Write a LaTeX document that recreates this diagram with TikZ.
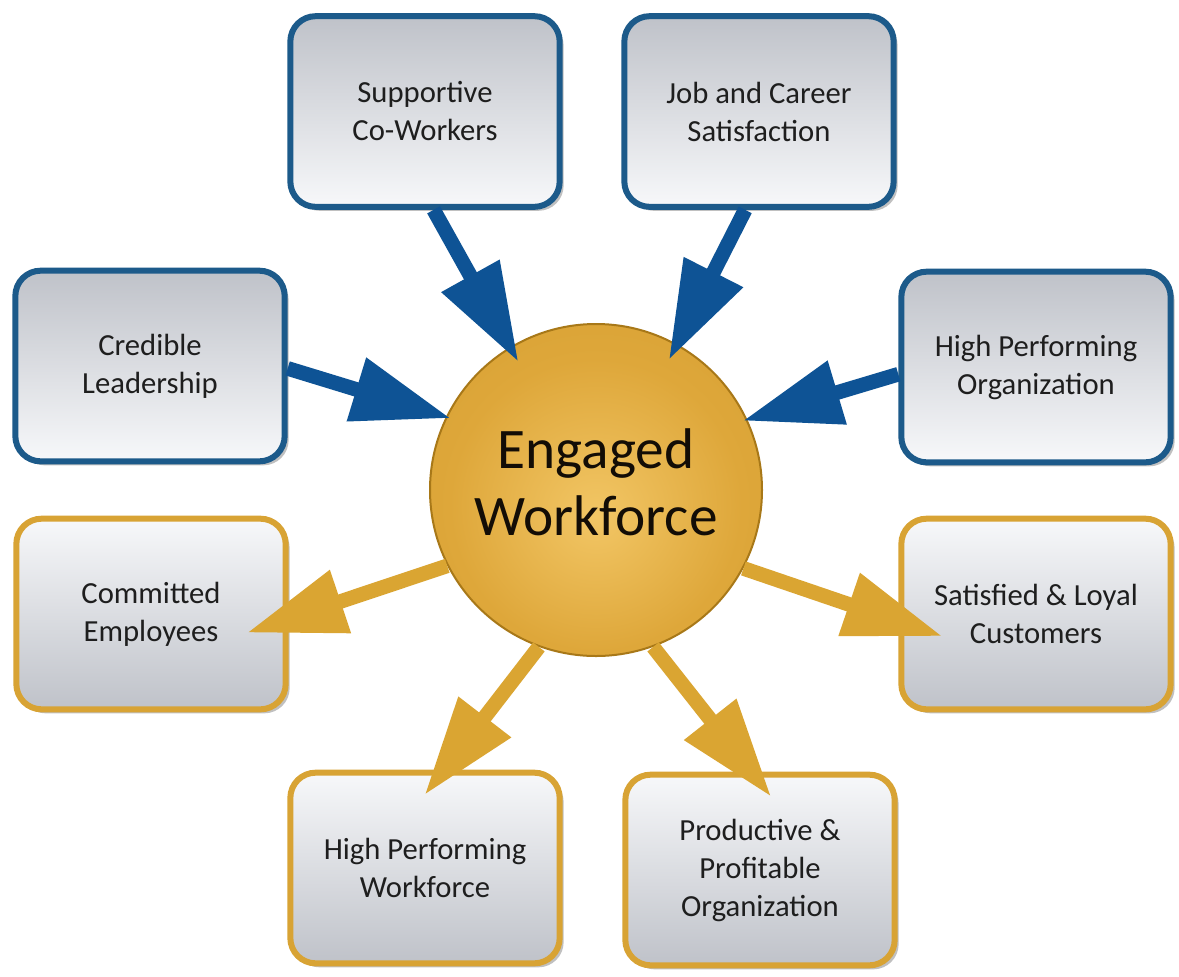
\documentclass[tikz,border=0pt]{standalone}
\usepackage{fontspec}
\setmainfont{Carlito}
\usetikzlibrary{arrows.meta,shadows}
\definecolor{bluebd}{HTML}{1C5A8A}
\definecolor{bluear}{HTML}{0E5395}
\definecolor{goldbd}{HTML}{D8A334}
\definecolor{goldar}{HTML}{DAA532}
\definecolor{boxgray}{HTML}{BFC2C9}
\definecolor{boxwhite}{HTML}{F7F8FA}
\definecolor{eglight}{HTML}{F2C665}
\definecolor{egmid}{HTML}{DEA73A}
\definecolor{egedge}{HTML}{D29D30}
\definecolor{egdark}{HTML}{A87818}
\definecolor{txt}{HTML}{1E1E1E}
\pgfdeclareradialshading{egshade}{\pgfpoint{0bp}{-4bp}}{color(0bp)=(eglight); color(22bp)=(egmid); color(45bp)=(egedge); color(50bp)=(egdark)}
\tikzset{
  box/.style={rectangle, rounded corners=19pt, minimum width=202pt, minimum height=143pt,
    line width=4.5pt, align=center, font=\fontsize{23}{28.5}\selectfont, text=txt,
    drop shadow={shadow xshift=3pt, shadow yshift=-3pt, opacity=0.35, fill=black!70}},
  inbox/.style={box, draw=bluebd, top color=boxgray, bottom color=boxwhite},
  outbox/.style={box, draw=goldbd, top color=boxwhite, bottom color=boxgray},
  inarrow/.style={draw=bluear, line width=11pt, -{Triangle[length=74pt,width=47pt]}},
  outarrow/.style={draw=goldar, line width=11pt, -{Triangle[length=74pt,width=47pt]}},
  hub/.style={circle, minimum size=249pt, shading=egshade, draw=egdark, line width=1.5pt},
  hubtext/.style={align=center, text=black!90!brown, font=\fontsize{43}{50.5}\selectfont}
}
\begin{document}
\begin{tikzpicture}[x=0.75pt,y=-0.75pt]
\useasboundingbox (0,0) rectangle (1179,976);
\fill[white] (0,0) rectangle (1179,976);

\node[inbox] (sup) at (425,111.5) {Supportive\\Co-Workers};
\node[inbox] (job) at (759,111.5) {Job and Career\\Satisfaction};
\node[inbox] (cred) at (150,366) {Credible\\Leadership};
\node[inbox] (hpo) at (1036,367) {High Performing\\Organization};
\node[outbox] (com) at (151,614) {Committed\\Employees};
\node[outbox] (sat) at (1036,614) {Satisfied \& Loyal\\Customers};
\node[outbox] (hpw) at (425,868) {High Performing\\Workforce};
\node[outbox] (ppo) at (760,870) {Productive \&\\Profitable\\Organization};

\node[hub] (ew) at (596,490) {};
\node[hubtext] (ewt) at (596,482) {Engaged\\Workforce};

\draw[inarrow, shorten >=-13pt] (sup.-85.5) -- (ew.121.6);
\draw[inarrow, shorten >=-13.5pt] (job.-98) -- (ew.61.2);
\draw[inarrow, shorten >=-3.8pt] (cred.-1.6) -- (ew.154.6);
\draw[inarrow, shorten >=-3.6pt] (hpo.183.3) -- (ew.25.9);

\draw[outarrow, shorten >=-33pt] (ew.207.3) -- (com.-2);
\draw[outarrow, shorten >=-35pt] (ew.-28.6) -- (sat.183.7);
\draw[outarrow, shorten >=-24pt] (ew.250.7) -- (hpw.79.5);
\draw[outarrow, shorten >=-24pt] (ew.-70.5) -- (ppo.95.7);
\end{tikzpicture}
\end{document}
